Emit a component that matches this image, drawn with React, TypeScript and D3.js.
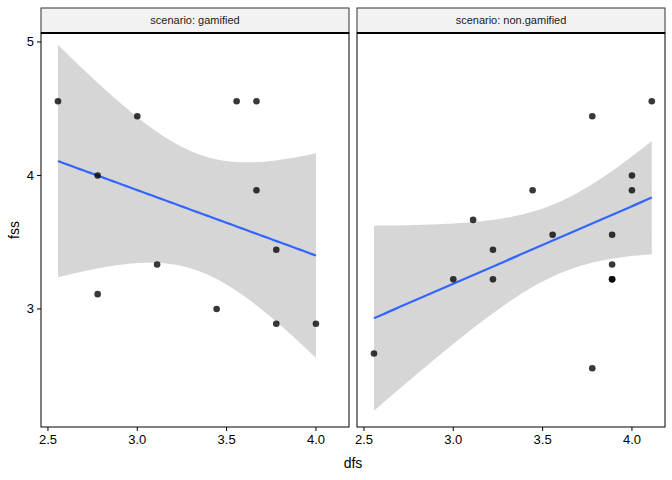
import * as d3 from "d3";

const gamX = [2.556, 2.778, 2.778, 3.0, 3.111, 3.444, 3.556, 3.667, 3.667, 3.778, 3.778, 4.0];
const gamY = [4.556, 4.0, 3.111, 4.444, 3.333, 3.0, 4.556, 4.556, 3.889, 3.444, 2.889, 2.889];
const nonX = [2.556, 3.0, 3.111, 3.222, 3.222, 3.444, 3.556, 3.778, 3.778, 3.889, 3.889, 3.889, 3.889, 4.0, 4.0, 4.111];
const nonY = [2.667, 3.222, 3.667, 3.444, 3.222, 3.889, 3.556, 4.444, 2.556, 3.556, 3.333, 3.222, 3.222, 4.0, 3.889, 4.556];
const xTicks = [2.5, 3.0, 3.5, 4.0];
const yTicks = [3, 4, 5];
const tTable: Record<number, number> = { 10: 2.228, 13: 2.16, 14: 2.145 };

const panels = [
  { label: "scenario: gamified", xs: gamX, ys: gamY },
  { label: "scenario: non.gamified", xs: nonX, ys: nonY },
];

function fit(xs: number[], ys: number[]) {
  const n = xs.length;
  const mx = d3.mean(xs)!;
  const my = d3.mean(ys)!;
  const sxx = d3.sum(xs, (x) => (x - mx) ** 2);
  const b = d3.sum(xs, (x, i) => (x - mx) * (ys[i] - my)) / sxx;
  const a = my - b * mx;
  const s = Math.sqrt(d3.sum(xs, (x, i) => (ys[i] - a - b * x) ** 2) / (n - 2));
  const t = tTable[n - 2] ?? 2.1;
  const x0 = d3.min(xs)!;
  const x1 = d3.max(xs)!;
  return d3.range(0, 81).map((k) => {
    const x = x0 + ((x1 - x0) * k) / 80;
    const y = a + b * x;
    const se = s * Math.sqrt(1 / n + (x - mx) ** 2 / sxx);
    return { x, y, lo: y - t * se, hi: y + t * se };
  });
}

export default function App() {
  const W = 672, H = 480;
  const top = 33, bottom = 427, stripTop = 8;
  const pX = [[41, 349], [357, 665]];
  const y = d3.scaleLinear().domain([2.116, 5.067]).range([bottom, top]);
  const font = "Liberation Sans, Arial, sans-serif";
  return (
    <svg width={W} height={H} style={{ position: "absolute", left: 0, top: 0, background: "#fff" }} fontFamily={font}>
      {panels.map((p, i) => {
        const [l, r] = pX[i];
        const x = d3.scaleLinear().domain([2.461, 4.185]).range([l, r]);
        const f = fit(p.xs, p.ys);
        const area = d3.area<any>().x((d) => x(d.x)).y0((d) => y(d.lo)).y1((d) => y(d.hi))(f)!;
        const line = d3.line<any>().x((d) => x(d.x)).y((d) => y(d.y))(f)!;
        return (
          <g key={i}>
            <clipPath id={`c${i}`}><rect x={l} y={top} width={r - l} height={bottom - top} /></clipPath>
            <g clipPath={`url(#c${i})`}>
              <path d={area} fill="#999" fillOpacity={0.4} />
              <path d={line} fill="none" stroke="#3366ff" strokeWidth={2.2} />
              {p.xs.map((v, j) => (
                <circle key={j} cx={x(v)} cy={y(p.ys[j])} r={3.3} fill="#000" fillOpacity={0.78} />
              ))}
            </g>
            <rect x={l} y={top} width={r - l} height={bottom - top} fill="none" stroke="#000" strokeWidth={1} />
            <rect x={l} y={stripTop} width={r - l} height={top - stripTop} fill="#f2f2f2" stroke="#333" strokeWidth={1} />
            <line x1={l} x2={r} y1={top} y2={top} stroke="#000" strokeWidth={2} />
            <text x={(l + r) / 2} y={24} textAnchor="middle" fontSize={11} fill="#1a1a1a">{p.label}</text>
            {xTicks.map((t) => (
              <g key={t}>
                <line x1={x(t)} x2={x(t)} y1={bottom} y2={bottom + 4} stroke="#000" />
                <text x={x(t)} y={bottom + 17} textAnchor="middle" fontSize={13} fill="#000">{t.toFixed(1)}</text>
              </g>
            ))}
          </g>
        );
      })}
      {yTicks.map((t) => (
        <g key={t}>
          <line x1={37} x2={41} y1={y(t)} y2={y(t)} stroke="#000" />
          <text x={34} y={y(t) + 4.5} textAnchor="end" fontSize={13} fill="#000">{t}</text>
        </g>
      ))}
      <text x={353} y={468} textAnchor="middle" fontSize={14} fill="#000">dfs</text>
      <text transform={`translate(19,${(top + bottom) / 2}) rotate(-90)`} textAnchor="middle" fontSize={14} fill="#000">fss</text>
    </svg>
  );
}
